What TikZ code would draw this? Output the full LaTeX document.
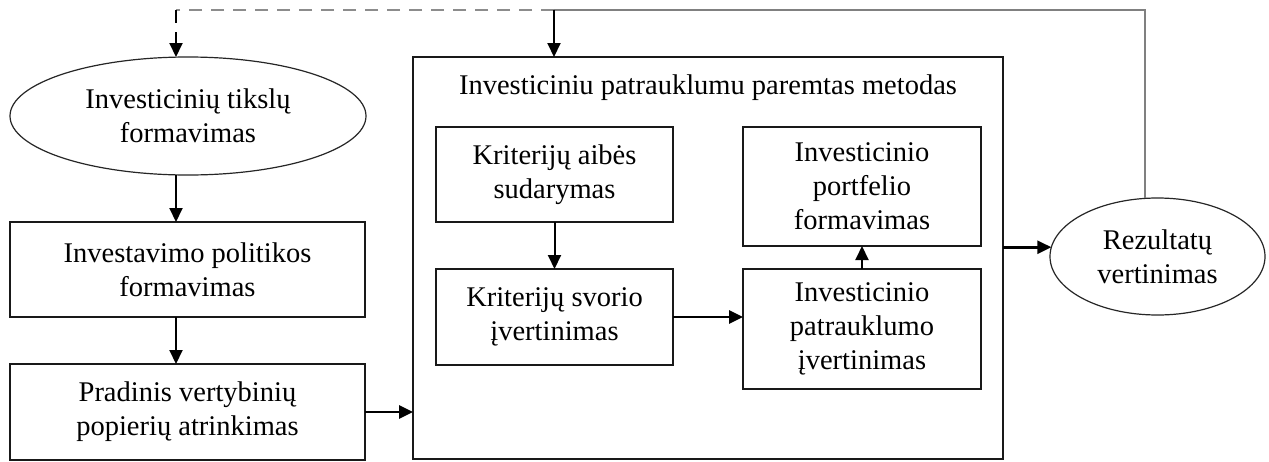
\documentclass[tikz,border=0pt]{standalone}
\usepackage{fontspec}
\setmainfont{Liberation Serif}
\usetikzlibrary{shapes.geometric,arrows.meta}
\begin{document}
\begin{tikzpicture}[x=1pt,y=1pt,
  every node/.style={font=\fontsize{28.5}{34}\selectfont, align=center, inner sep=0pt, outer sep=0pt},
  stepbox/.style={draw=black!90, line width=1.5pt, rectangle},
  oval/.style={draw=black!85, line width=1.2pt, ellipse},
  flow/.style={line width=2pt, -{Triangle[length=14pt,width=13pt]}},
  flowthick/.style={line width=2.7pt, -{Triangle[length=14pt,width=13pt]}},
  feedback/.style={draw=black!50, line width=1.8pt},
  feedbackdash/.style={draw=black!45, line width=1.8pt, dash pattern=on 13pt off 9pt}
]
\useasboundingbox (0,0) rectangle (1269,-461);
\fill[white] (0,0) rectangle (1269,-461);

% left column
\node[oval, minimum width=356pt, minimum height=118pt] (goals) at (188,-116) {Investicinių tikslų\\formavimas};
\node[stepbox, minimum width=355pt, minimum height=95pt] (policy) at (187.5,-269.5) {Investavimo politikos\\formavimas};
\node[stepbox, minimum width=355pt, minimum height=96pt] (select) at (187.5,-412) {Pradinis vertybinių\\popierių atrinkimas};

% method frame
\node[stepbox, minimum width=590pt, minimum height=402pt] (method) at (708,-258) {};
\node (title) at (708,-88) {Investiciniu patrauklumu paremtas metodas};
\node[stepbox, minimum width=237pt, minimum height=95pt] (crit) at (554.5,-174.5) {Kriterijų aibės\\sudarymas};
\node[stepbox, minimum width=237pt, minimum height=96pt] (weight) at (554.5,-317) {Kriterijų svorio\\įvertinimas};
\node[stepbox, minimum width=238pt, minimum height=119pt] (portf) at (862,-186.5) {Investicinio\\portfelio\\formavimas};
\node[stepbox, minimum width=238pt, minimum height=120pt] (attr) at (862,-329) {Investicinio\\patrauklumo\\įvertinimas};

% result
\node[oval, minimum width=215pt, minimum height=117pt] (result) at (1157.5,-256.5) {Rezultatų\\vertinimas};

% column of arrows on the left
\coordinate (colx) at (176,0);
\draw[flow] (goals.south -| colx) -- (policy.north -| colx);
\draw[flow] (policy.south -| colx) -- (select.north -| colx);
\draw[flowthick] (select.east) -- (method.west |- select.east);

% inside the method
\draw[flow] (crit) -- (weight);
\draw[flowthick] (weight.east) -- (attr.west |- weight.east);
\draw[flow] (attr.north) -- (portf.south);

% to the result
\draw[flowthick] (method.east |- result.175) -- (result.175);

% feedback loop
\coordinate (fbR) at (result.102 |- 0,-10);
\coordinate (fbM) at (554,-10);
\coordinate (fbL) at (176,-10);
\draw[feedback] (result.102) -- (fbR) -- (fbM);
\draw[feedbackdash] (fbM) -- (fbL);
\draw[flow, dash pattern=on 13pt off 9pt] (fbL) -- (goals.north -| fbL);
\draw[flow] (fbM) -- (method.north -| fbM);
\end{tikzpicture}
\end{document}
